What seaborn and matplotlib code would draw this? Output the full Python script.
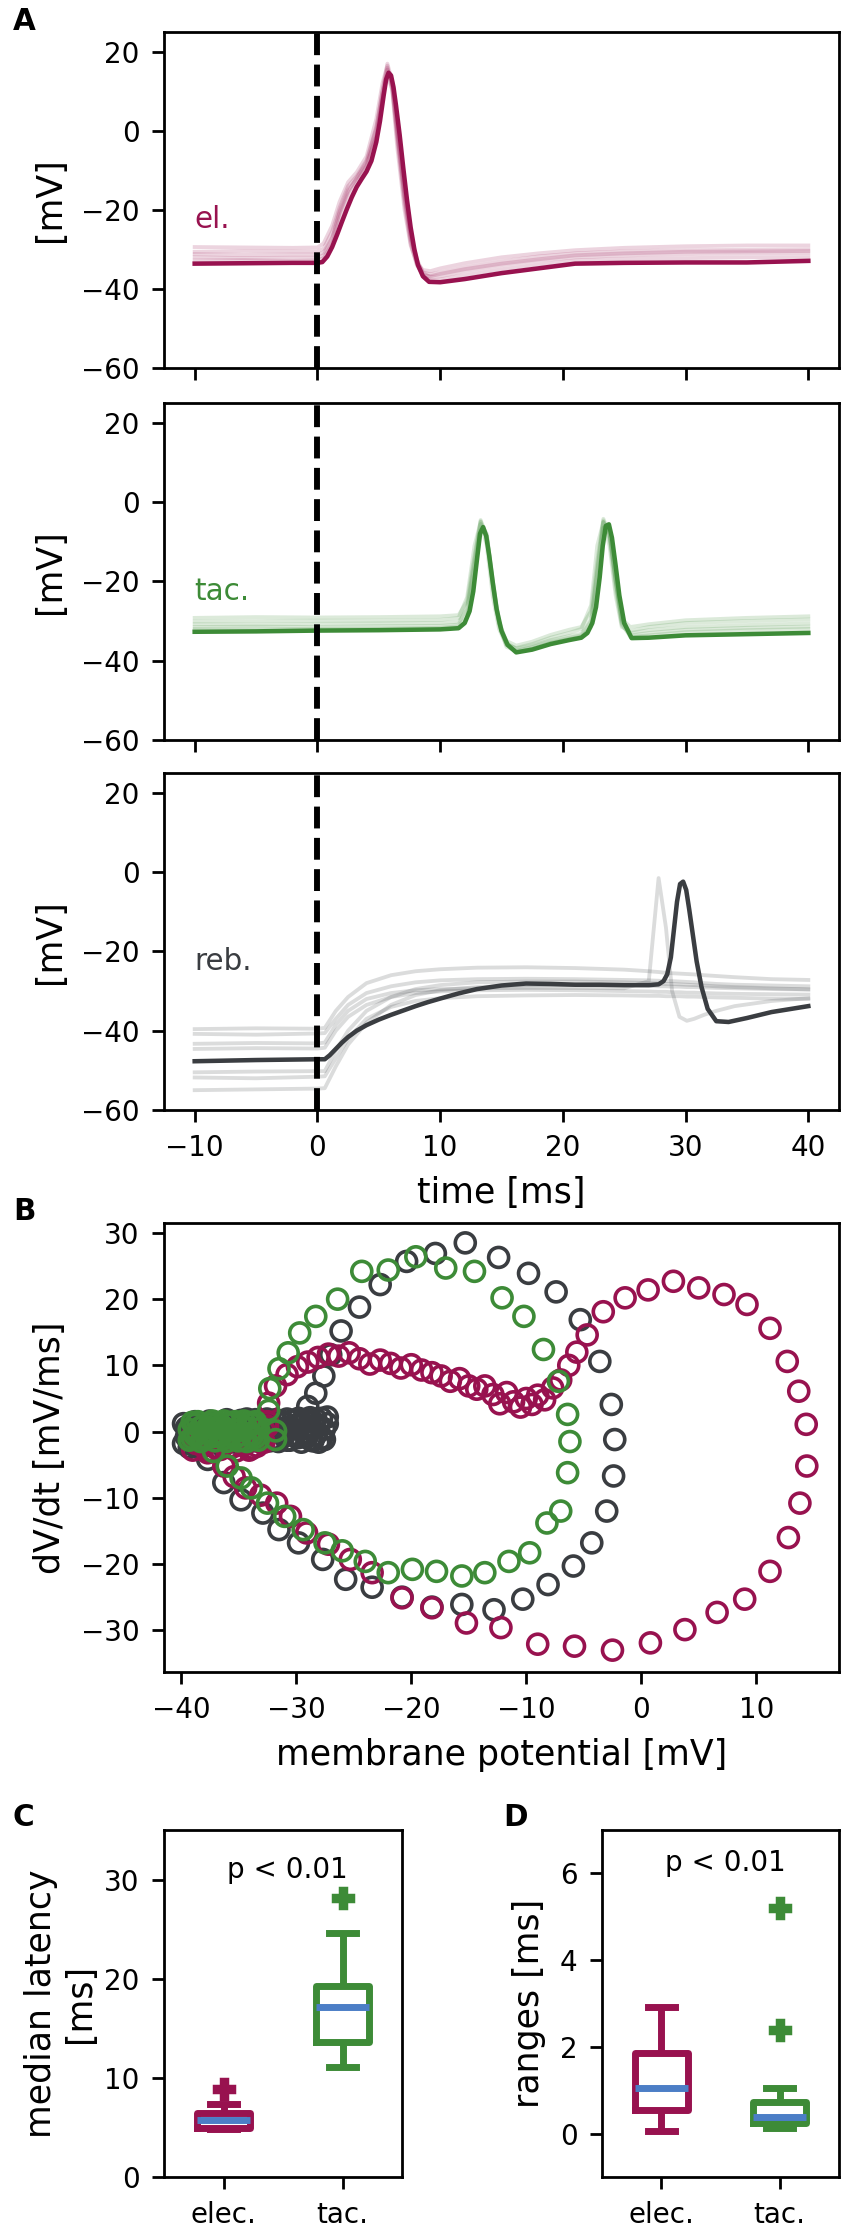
import numpy as np
import pandas as pd
import matplotlib
matplotlib.use("Agg")
import matplotlib.pyplot as plt
import seaborn as sns

EL = "#98124f"
TAC = "#3d8b37"
REB = "#3a3d41"
BLUE = "#4c7ec6"

# ---------- A: voltage traces (ms, mV) ----------
# mean traces (bold)
t_el = [-10, -6, -2, 0, 0.4, 0.8, 1.2, 1.6, 2.0, 2.4, 2.8, 3.2, 3.6, 4.0, 4.4, 4.8, 5.1, 5.4,
        5.6, 5.8, 6.0, 6.2, 6.4, 6.7, 7.0, 7.3, 7.6, 7.9, 8.2, 8.6, 9.1, 10, 12, 15, 18, 21,
        25, 30, 35, 40]
el_main = [-33.6, -33.5, -33.4, -33.4, -33.2, -31.8, -29.4, -26.3, -23.0, -19.8, -16.8, -14.2,
           -12.2, -10.3, -7.6, -2.8, 2.5, 9.0, 13.0, 14.7, 14.0, 11.0, 6.5, -1.0, -9.5, -17.5,
           -24.5, -30.0, -34.0, -36.8, -38.2, -38.3, -37.5, -36.0, -34.8, -33.6, -33.4, -33.3,
           -33.3, -32.9]

t_tac = [-10, -5, 0, 5, 10, 11.5, 12.0, 12.4, 12.7, 13.0, 13.25, 13.5, 13.75, 14.0, 14.3, 14.6,
         15.0, 15.5, 16.2, 17.5, 19, 20.5, 21.5, 22.0, 22.4, 22.7, 23.0, 23.25, 23.5, 23.75,
         24.0, 24.3, 24.6, 25.0, 25.6, 27, 30, 35, 40]
tac_main = [-32.7, -32.6, -32.4, -32.3, -32.1, -31.8, -30.5, -27.5, -22.5, -14.5, -8.0, -6.3,
            -8.5, -13.5, -20.5, -27.0, -32.5, -36.0, -37.9, -37.2, -35.8, -34.8, -34.2, -33.0,
            -30.5, -26.5, -19.0, -11.0, -6.0, -5.6, -9.0, -16.0, -23.5, -30.5, -34.3, -34.2,
            -33.6, -33.3, -33.0]

t_reb = [-10, -5, 0, 0.6, 1.0, 1.5, 2.0, 2.5, 3.2, 4, 5, 6, 7, 8, 9, 10, 11.5, 13, 15, 17, 19,
         21, 23, 25, 27, 27.8, 28.2, 28.5, 28.8, 29.05, 29.3, 29.55, 29.8, 30.05, 30.3, 30.6,
         30.9, 31.3, 31.8, 32.5, 33.5, 35, 37, 40]
reb_main = [-47.7, -47.4, -47.2, -47.2, -46.2, -44.6, -43.0, -41.6, -40.0, -38.6, -37.2, -36.0,
            -34.9, -33.8, -32.8, -31.9, -30.6, -29.5, -28.6, -28.1, -28.2, -28.4, -28.4, -28.5,
            -28.5, -28.3, -27.5, -25.8, -21.5, -14.5, -7.5, -3.0, -2.4, -4.5, -9.5, -16.0,
            -22.5, -29.0, -34.5, -37.6, -37.8, -36.8, -35.3, -33.8]

# single trials (faint)
t_el_f = [-10, -6, -2, 0, 0.5, 1.2, 1.8, 2.5, 3.2, 4.0, 4.8, 5.3, 5.7, 6.1, 6.5, 7.1,
          7.6, 8.1, 8.6, 9.2, 10, 12, 15, 18, 21, 25, 30, 35, 40]
el_faint = [
    [-29.4, -29.5, -29.6, -29.5, -28.5, -24, -18, -13, -10.5, -6.5, 3, 12, 16.5, 10, -4, -20,
     -29, -33.5, -35.2, -35.5, -34.8, -33.5, -32, -31, -30.2, -29.6, -29.2, -29.0, -29.0],
    [-30.6, -30.4, -30.5, -30.5, -29.8, -25.5, -19.5, -14, -11.5, -7.5, 1, 10, 17, 12.5, 1, -15,
     -26, -32.5, -35.8, -36.3, -35.8, -34.5, -33, -31.8, -31, -30.5, -30.2, -30.1, -30.0],
    [-31.2, -31.4, -31.3, -31.3, -30.8, -27, -21, -15.5, -12, -8.5, -1.5, 8, 15.5, 12, 0, -16.5,
     -27, -33, -36, -37, -36.8, -35.5, -34, -32.8, -32, -31.5, -31.2, -31, -31.0],
    [-32.0, -32.2, -32.1, -32.1, -31.5, -27.5, -20.5, -15, -12, -8, 0.5, 10, 16, 11, -2, -18.5,
     -28.5, -34, -36.5, -36.8, -36.2, -35, -33.6, -32.5, -31.5, -31, -30.6, -30.5, -30.4],
    [-32.8, -32.7, -32.9, -32.8, -32.2, -28.8, -22, -16.4, -13, -9, -1, 8.5, 14, 10.5, -1, -17,
     -27.5, -33.5, -36.8, -37.8, -37.6, -36.5, -35, -33.8, -32.8, -32.4, -32.2, -32.0, -32.0],
]

t_tac_f = [-10, -5, 0, 5, 10, 11.5, 12.2, 12.8, 13.3, 13.8, 14.3, 14.8, 15.4, 16.2, 17.5, 19,
           20.5, 21.5, 22.3, 22.8, 23.3, 23.8, 24.3, 24.8, 25.5, 27, 30, 35, 40]
tac_faint = [
    [-29.2, -29.0, -29.1, -29.0, -28.8, -28.5, -25, -13.5, -4.5, -8.5, -21, -30.5, -35, -36.2,
     -35.2, -33.5, -32.2, -31.5, -27.5, -15, -4.2, -8, -20, -29.5, -31.5, -30.8, -29.8, -29.2, -28.8],
    [-30.1, -30.0, -29.9, -29.9, -29.7, -29.2, -24, -11, -5, -11, -24, -32, -36, -36.8, -35.8,
     -34.2, -33, -32, -26, -11, -5, -11, -23.5, -31.5, -32.5, -31.5, -30.5, -30, -29.6],
    [-30.8, -30.9, -30.7, -30.6, -30.5, -30.2, -27, -16, -5.5, -8, -20, -30, -35.5, -37, -36.2,
     -34.8, -33.8, -33.2, -29.5, -18, -5, -7.5, -19.5, -30, -33, -32.3, -31.5, -31, -30.6],
    [-31.5, -31.4, -31.5, -31.3, -31.2, -30.9, -26.5, -14.5, -4.8, -9, -22, -31, -36.5, -37.5,
     -36.6, -35.2, -34.2, -33.6, -30, -17, -4.6, -9.2, -22, -31, -33.6, -33, -32.2, -31.7, -31.4],
    [-32, -32.1, -31.9, -31.9, -31.7, -31.3, -29, -18.5, -7, -8.5, -20.5, -30.5, -36, -37.8, -37,
     -35.5, -34.6, -34, -31.5, -21, -6.5, -8, -20, -30.5, -34, -33.6, -32.8, -32.3, -32],
]

t_reb_f = [-10, -5, 0, 0.6, 1.5, 2.5, 4, 6, 8, 10, 13, 17, 21, 25, 27, 27.8, 28.4, 28.9, 29.5,
           30.1, 30.7, 31.5, 32.5, 34, 37, 40]
reb_faint = [
    [-39.6, -39.4, -39.5, -39.3, -35, -31.5, -28, -26, -25, -24.5, -24.1, -24, -24.2, -24.6, -25,
     -25.2, -25.4, -25.5, -25.6, -25.7, -25.8, -26, -26.2, -26.5, -27, -27.2],
    [-40.8, -41, -40.7, -40.6, -37, -33.5, -30.5, -28.8, -27.8, -27.3, -27, -26.9, -27, -27.2,
     -27.3, -27.4, -27.5, -27.5, -27.6, -27.7, -27.8, -28, -28.2, -28.4, -28.6, -28.8],
    [-43.3, -43.1, -43.2, -43, -38.5, -35, -32, -30.5, -29.8, -29.5, -29.3, -29.2, -29.2, -29.3,
     -27.5, -1.5, -14, -30, -36.5, -37.5, -37, -36, -35, -33.8, -32.5, -31.8],
    [-44.6, -44.4, -44.5, -44.3, -40, -36.5, -33.5, -31.5, -30.5, -30.1, -29.8, -29.7, -29.8, -30,
     -30.1, -30.2, -30.2, -30.3, -30.3, -30.4, -30.4, -30.5, -30.6, -30.7, -30.8, -30.9],
    [-50.5, -50.3, -50.2, -50.2, -45, -40, -35, -31.5, -29.5, -28.5, -27.8, -27.6, -27.6, -27.8,
     -28, -28.1, -28.2, -28.2, -28.3, -28.4, -28.5, -28.6, -28.8, -29, -29.3, -29.6],
    [-51.8, -52, -51.6, -51.5, -47, -42, -37, -34, -32.5, -31.8, -31.3, -31.1, -31, -31.1, -31.2,
     -31.2, -31.3, -31.3, -31.3, -31.4, -31.4, -31.5, -31.6, -31.7, -31.9, -32],
    [-55, -54.8, -54.6, -54.5, -49, -43.5, -38, -33.5, -31, -29.8, -29, -28.6, -28.5, -28.6,
     -28.7, -28.8, -28.8, -28.9, -28.9, -29, -29, -29.1, -29.2, -29.3, -29.5, -29.6],
]

# ---------- B: phase plane (mV, mV/ms) ----------
# samples around rest (dense cluster, two passes of the baseline)
reb_rest_v = [-39.8, -39.55, -39.3, -39.05, -38.8, -38.55, -38.3, -38.05, -37.8, -37.55, -37.3,
              -37.05, -36.8, -36.55, -36.3, -36.05, -35.8, -35.55, -35.3, -35.05, -34.8, -34.55,
              -34.3, -34.05, -33.8, -33.55, -33.3, -33.05, -32.8, -32.55, -32.3, -32.05, -31.8,
              -31.55, -31.3, -31.05, -30.8, -30.55, -30.3, -30.05, -29.8, -29.55, -29.3, -29.05,
              -28.8, -28.55, -28.3, -28.05, -27.8, -27.55, -27.3]
reb_rest_dv = [-1.8, 0.6, -2.4, 0.1, -1.2, 1.0, -2.0, -0.4, 0.8, -1.5, 0.3, -0.9, 1.1, -1.7,
               0.0, 0.9, -1.1, 0.4, -0.6, 1.2, -1.3, 0.2, 0.8, -0.9, 1.0, -0.3, 0.6, -1.2, 1.3,
               -0.5, 0.2, 1.1, -1.0, 0.5, -0.2, 1.2, -1.3, 0.7, -0.6, 1.0, -0.9, 1.4, -0.2, 0.6,
               -1.2, 1.5, -0.5, 0.9, -1.0, 0.4, 1.2]
reb_rest_dv2 = [1.2, -0.8, 0.9, -1.6, 1.5, -0.2, 1.3, -1.4, 0.5, 1.6, -0.7, 1.4, -0.4, 0.7,
                -1.5, 1.8, -0.3, 1.5, -1.6, 0.4, 1.7, -1.1, 1.9, 0.1, -1.4, 1.8, -0.8, 1.6, -0.2,
                1.9, -1.4, 0.4, 1.8, -1.5, 1.6, -0.6, 1.9, -1.3, 1.7, -0.4, 2.0, -1.6, 1.8, -0.8,
                2.1, -1.4, 1.9, -1.6, 2.0, -1.2, 2.2]
el_rest_v = [-39.0, -38.7, -38.3, -38.0, -37.6, -37.3, -36.9, -36.6, -36.2, -35.9, -35.5, -35.2,
             -34.8, -34.5, -34.1, -33.8, -33.4, -33.1, -32.8, -32.5]
el_rest_dv = [-0.6, -1.8, -1.0, -2.2, -0.4, -1.5, -2.6, -0.9, -1.9, -0.5, -2.3, -1.2, -0.3,
              -2.0, -1.1, -2.5, -0.7, -1.6, 0.2, 1.5]
el_rest_dv2 = [-2.8, -0.2, -2.0, -1.2, -2.9, -0.5, -1.4, -2.7, -0.2, -2.4, -1.0, -2.9, -1.6,
               -0.6, -2.8, -0.2, -2.2, -0.4, -1.6, 0.8]
tac_rest_v = [-39.3, -39.05, -38.8, -38.55, -38.3, -38.05, -37.8, -37.55, -37.3, -37.05, -36.8,
              -36.55, -36.3, -36.05, -35.8, -35.55, -35.3, -35.05, -34.8, -34.55, -34.3, -34.05,
              -33.8, -33.55, -33.3, -31.8]
tac_rest_dv = [0.3, -1.0, 1.1, -0.4, 0.7, -1.2, 0.0, 1.2, -0.8, 0.5, -0.2, 1.0, -1.1, 0.4, -0.6,
               1.2, -0.9, 0.2, 0.9, -1.2, 0.6, -0.3, 1.1, -0.9, 0.4, 0.1]
tac_rest_dv2 = [-1.3, 1.4, -0.6, 1.5, -1.5, 0.9, -1.0, 0.6, 1.6, -1.4, 1.3, -0.7, 1.6, -1.5,
                1.4, -0.4, 1.5, -1.4, -0.5, 1.6, -1.5, 1.4, -0.6, 1.5, -1.3, -1.2]

# samples along the spike (open loop)
el_v = [-32.4, -31.8,
        -30.8, -29.9, -29.0, -28.1, -27.2, -26.3, -25.4, -24.5, -23.6, -22.7, -21.8, -20.9, -20.0,
        -19.1, -18.2, -17.4, -16.6, -15.8, -15.0, -14.3, -13.6, -12.9, -12.3, -11.7, -11.1, -10.5,
        -10.0, -9.5, -9.0, -8.4, -7.7, -7.0,
        -6.3, -5.6, -4.7, -3.3, -1.4, 0.6, 2.8, 5.0, 7.2, 9.2, 11.2, 12.7, 13.7, 14.35, 14.4, 13.8,
        12.8, 11.2, 9.0, 6.6, 3.8, 0.8, -2.5, -5.8, -9.0, -12.2, -15.2, -18.2, -20.8, -23.4, -25.3,
        -27.2, -29.1, -30.5, -31.7, -33.1, -34.4, -35.4, -36.3, -37.7]
el_dv = [4.3, 6.9,
         8.6, 9.8, 10.5, 11.2, 11.7, 11.4, 11.9, 11.0, 10.2, 10.8, 10.3, 9.6, 10.1,
         9.3, 8.9, 8.4, 7.6, 8.0, 6.9, 6.4, 6.9, 5.6, 4.2, 5.9, 4.5, 3.7,
         5.0, 4.1, 5.5, 4.8, 6.6, 7.8,
         10.0, 12.0, 14.6, 18.1, 20.2, 21.4, 22.7, 21.7, 20.7, 19.2, 15.6, 10.6, 6.1, 1.1, -5.2, -10.8,
         -16.0, -21.1, -25.3, -27.3, -29.9, -31.9, -33.0, -32.4, -32.1, -29.6, -28.9, -26.6, -25.1,
         -21.3, -19.3, -17.0, -15.3, -12.8, -10.8, -9.6, -8.5, -6.8, -5.2, -3.2]

reb_v = [-29.0, -28.3, -27.6, -27.0, -26.1, -24.5, -22.7, -20.4, -17.9, -15.3, -12.4, -9.8, -7.4,
         -5.3, -3.6, -2.6, -2.3, -2.4, -3.0, -4.3, -5.9, -8.1, -10.3, -12.8, -15.6, -18.2, -20.8,
         -23.4, -25.7, -27.7, -29.8, -31.5, -32.9, -34.8, -36.3, -37.7, -38.8]
reb_dv = [3.8, 5.8, 8.4, 11.6, 15.2, 18.8, 22.2, 25.7, 26.9, 28.5, 26.3, 23.9, 21.1,
          16.9, 10.6, 4.1, -1.2, -6.7, -12.0, -16.8, -20.3, -23.1, -25.3, -26.9, -26.1, -26.5, -25.0,
          -23.5, -22.3, -19.3, -16.8, -14.8, -12.3, -10.3, -7.7, -4.2, -2.2]

tac_v = [-32.4, -32.3, -31.5, -30.7, -29.7, -28.3, -26.4, -24.3, -22.0, -19.6, -17.0, -14.5, -12.1,
         -10.2, -8.5, -7.2, -6.4, -6.2, -6.4, -7.0, -8.2, -9.7, -11.5, -13.6, -15.6, -17.8, -19.9,
         -22.0, -24.0, -26.0, -27.5, -29.4, -31.0, -32.5, -33.9, -34.8, -36.0, -37.2]
tac_dv = [3.2, 6.5, 9.5, 11.9, 14.9, 17.4, 20.0, 24.2, 24.4, 26.4, 24.7, 24.2, 20.2,
          17.4, 12.4, 7.6, 2.6, -1.5, -6.2, -12.0, -13.8, -18.3, -19.6, -21.3, -21.8, -21.1, -20.8,
          -21.3, -19.6, -18.0, -16.8, -14.8, -12.8, -10.8, -8.5, -7.0, -5.2, -3.0]

# ---------- C / D: per-cell summaries (ms) ----------
conds = ["elec.", "tac."]
elec_latency = [4.85, 4.9, 4.95, 4.95, 4.95, 5.3, 5.5, 5.75, 5.9, 6.1, 6.4, 6.5, 6.9, 7.4, 8.9]
tac_latency = [11.1, 12.0, 13.0, 13.4, 13.8, 15.0, 16.2, 17.1, 17.8, 18.5, 19.1, 19.5, 21.0, 24.6, 28.1]
elec_ranges = [0.05, 0.3, 0.5, 0.6, 0.85, 1.06, 1.3, 1.75, 1.99, 2.4, 2.93]
tac_ranges = [0.12, 0.15, 0.2, 0.22, 0.25, 0.28, 0.32, 0.36, 0.39, 0.45, 0.55, 0.65, 0.74, 0.85,
              1.06, 2.4, 5.2]

# ---------- figure ----------
W, H = 852, 2237
fig = plt.figure(figsize=(W / 250, H / 250), dpi=250)


def box(l, t, r, b):
    return [l / W, 1 - b / H, (r - l) / W, (b - t) / H]


axA1 = fig.add_axes(box(164, 32, 839, 368))
axA2 = fig.add_axes(box(164, 403, 839, 740))
axA3 = fig.add_axes(box(164, 773, 839, 1110))
axB = fig.add_axes(box(164, 1223, 839, 1672))
axC = fig.add_axes(box(164, 1830, 402, 2177))
axD = fig.add_axes(box(602, 1830, 839, 2177))

panels = [(axA1, t_el, el_main, t_el_f, el_faint, EL, "el."),
          (axA2, t_tac, tac_main, t_tac_f, tac_faint, TAC, "tac."),
          (axA3, t_reb, reb_main, t_reb_f, reb_faint, REB, "reb.")]
for ax, t, main, tf, faint, col, name in panels:
    for tr in faint:
        sns.lineplot(x=tf, y=tr, ax=ax, color=col, lw=1.1, alpha=0.18)
    sns.lineplot(x=t, y=main, ax=ax, color=col, lw=1.3)
    ax.axvline(0, color="k", ls="--", lw=1.7)
    ax.set_xlim(-12.5, 42.5)
    ax.set_ylim(-60, 25)
    ax.set_xticks([-10, 0, 10, 20, 30, 40])
    ax.set_yticks([-60, -40, -20, 0, 20])
    ax.set_ylabel("[mV]", fontsize=10)
    ax.tick_params(labelsize=8)
    ax.text(-10, -22.5, name, color=col, fontsize=8.5, va="center")
axA1.tick_params(labelbottom=False)
axA2.tick_params(labelbottom=False)
axA3.set_xlabel("time [ms]", fontsize=10)

# phase plane
groups = [(reb_rest_v + reb_rest_v + reb_v, reb_rest_dv + reb_rest_dv2 + reb_dv, REB),
          (el_rest_v + el_rest_v + el_v, el_rest_dv + el_rest_dv2 + el_dv, EL),
          (tac_rest_v + tac_rest_v + tac_v, tac_rest_dv + tac_rest_dv2 + tac_dv, TAC)]
for v, dv, col in groups:
    sns.scatterplot(x=v, y=dv, ax=axB, s=33, marker="o", linewidth=1.05)
    coll = axB.collections[-1]
    coll.set_facecolor("none")
    coll.set_edgecolor(col)
axB.set_xlim(-41.5, 17.2)
axB.set_ylim(-36.3, 31.5)
axB.set_xticks([-40, -30, -20, -10, 0, 10])
axB.set_yticks([-30, -20, -10, 0, 10, 20, 30])
axB.set_xlabel("membrane potential [mV]", fontsize=10)
axB.set_ylabel("dV/dt [mV/ms]", fontsize=10)
axB.tick_params(labelsize=8)

# box plots
pal = {"elec.": EL, "tac.": TAC}
df_lat = pd.DataFrame({"cond": ["elec."] * len(elec_latency) + ["tac."] * len(tac_latency),
                       "val": elec_latency + tac_latency})
df_rng = pd.DataFrame({"cond": ["elec."] * len(elec_ranges) + ["tac."] * len(tac_ranges),
                       "val": elec_ranges + tac_ranges})
for ax, df in [(axC, df_lat), (axD, df_rng)]:
    sns.boxplot(data=df, x="cond", y="val", hue="cond", order=conds, hue_order=conds,
                palette=pal, fill=False, width=0.45, linewidth=2, saturation=1,
                fliersize=6, flierprops={"marker": "P"},
                medianprops={"color": BLUE, "linewidth": 2}, legend=False, ax=ax)
    for ln in ax.lines:
        if ln.get_marker() == "P":
            ln.set_markerfacecolor(ln.get_markeredgecolor())
    ax.set_xlabel("")
    ax.set_xlim(-0.5, 1.5)
    ax.tick_params(labelsize=8)

axC.set_ylim(0, 35)
axC.set_yticks([0, 10, 20, 30])
axC.set_ylabel("median latency\n[ms]", fontsize=10, labelpad=2)
axC.text(0.54, 31, "p < 0.01", fontsize=8, ha="center", va="center")

axD.set_ylim(-1, 7)
axD.set_yticks([0, 2, 4, 6])
axD.set_ylabel("ranges [ms]", fontsize=10)
axD.text(0.54, 6.25, "p < 0.01", fontsize=8, ha="center", va="center")

for lab, x, y in [("A", 24, 22), ("B", 24, 1211), ("C", 23, 1818), ("D", 516, 1818)]:
    fig.text(x / W, 1 - y / H, lab, fontsize=8.5, fontweight="bold", ha="center", va="center")

fig.savefig("out.png", dpi=250)
